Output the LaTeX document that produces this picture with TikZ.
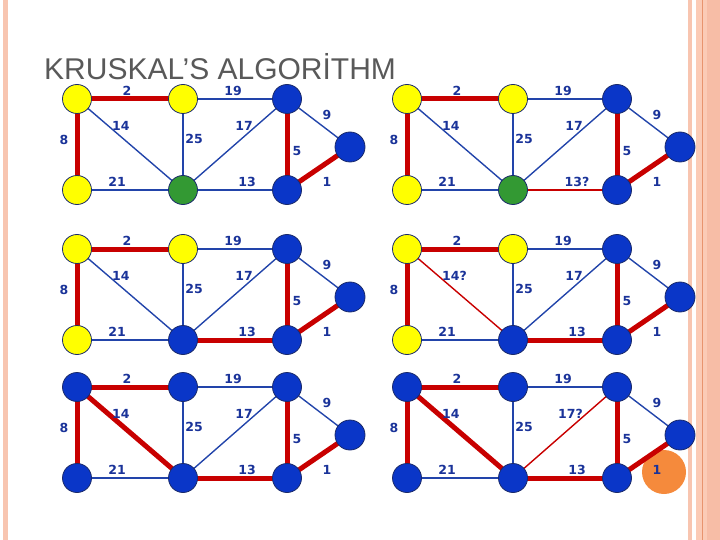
\documentclass[tikz,border=0pt]{standalone}
\usepackage{fontspec}
\setmainfont{DejaVu Sans}
\newfontfamily\titlefont{Liberation Sans}
\usetikzlibrary{backgrounds}
\definecolor{vblue}{HTML}{0A36C8}
\definecolor{vyellow}{HTML}{FFFF00}
\definecolor{vgreen}{HTML}{339933}
\definecolor{vline}{HTML}{1A2A6A}
\definecolor{eblue}{HTML}{2244AA}
\definecolor{ered}{HTML}{C80000}
\definecolor{labblue}{HTML}{1A3399}
\definecolor{titlegray}{HTML}{595959}
\definecolor{peachA}{HTML}{F8C5B0}
\definecolor{peachB}{HTML}{FBCBB6}
\definecolor{peachC}{HTML}{F7BDA6}
\definecolor{peachline}{HTML}{E8946E}
\definecolor{hilite}{HTML}{F58A3C}
\tikzset{
  vtx/.style={circle,minimum size=29pt,inner sep=0pt,draw=vline,line width=0.8pt},
  wlab/.style={text=labblue,font=\bfseries\fontsize{12.5}{13}\selectfont,inner sep=0pt},
  plainedge/.style={draw=eblue,line width=1.4pt},
  treeedge/.style={draw=ered,line width=5pt},
  candedge/.style={draw=ered,line width=1.4pt},
}
% #1 prefix, #2 dx, #3 dy, #4 colour A B D, #5 colour E, #6 colour C F G,
% #7 label 14, #8 label 17, #9 label 13
\newcommand\kpanel[9]{%
  \node[vtx,fill=#4] (#1A) at (77+#2,99+#3) {};
  \node[vtx,fill=#4] (#1B) at (183+#2,99+#3) {};
  \node[vtx,fill=#6] (#1C) at (287+#2,99+#3) {};
  \node[vtx,fill=#4] (#1D) at (77+#2,190+#3) {};
  \node[vtx,fill=#5] (#1E) at (183+#2,190+#3) {};
  \node[vtx,fill=#6] (#1F) at (287+#2,190+#3) {};
  \node[vtx,fill=#6,minimum size=30pt] (#1G) at (350+#2,147+#3) {};
  \node[wlab] (#1l2) at (127+#2,91+#3) {2};
  \node[wlab] (#1l19) at (233+#2,91+#3) {19};
  \node[wlab] (#1l8) at (64+#2,140+#3) {8};
  \node[wlab,anchor=west] (#1l14) at (112+#2,126+#3) {#7};
  \node[wlab] (#1l25) at (194+#2,139+#3) {25};
  \node[wlab,anchor=east] (#1l17) at (253+#2,126+#3) {#8};
  \node[wlab] (#1l9) at (327+#2,115+#3) {9};
  \node[wlab] (#1l5) at (297+#2,151+#3) {5};
  \node[wlab] (#1l21) at (117+#2,182+#3) {21};
  \node[wlab] (#1l13) at (247+#2,182+#3) {#9};
  \node[wlab] (#1l1) at (327+#2,182+#3) {1};
}
% edges: #1 prefix, #2 style for A-E (14), #3 style for C-E (17), #4 style for E-F (13)
\newcommand\kedges[4]{%
  \draw[treeedge] (#1A.center) -- (#1B.center);
  \draw[plainedge] (#1B.center) -- (#1C.center);
  \draw[treeedge] (#1A.center) -- (#1D.center);
  \draw[#2] (#1A.center) -- (#1E.center);
  \draw[plainedge] (#1B.center) -- (#1E.center);
  \draw[#3] (#1C.center) -- (#1E.center);
  \draw[plainedge] (#1C.center) -- (#1G.center);
  \draw[treeedge] (#1C.center) -- (#1F.center);
  \draw[plainedge] (#1D.center) -- (#1E.center);
  \draw[#4] (#1E.center) -- (#1F.center);
  \draw[treeedge] (#1F.center) -- (#1G.center);
}
\begin{document}
\begin{tikzpicture}[x=1pt,y=-1pt]
\useasboundingbox (0,0) rectangle (720,540);
% decorative border stripes
\fill[peachA] (3,0) rectangle (8,540);
\fill[peachA] (688,0) rectangle (692,540);
\fill[peachB] (696,0) rectangle (720,540);
\fill[peachC] (707,0) rectangle (720,540);
\draw[peachline,line width=1pt] (702.5,0) -- (702.5,540);
% title
\node[anchor=base west,inner sep=0pt,text=titlegray,font=\titlefont\fontsize{30}{30}\selectfont] (title) at (44,80) {KRUSKAL’S ALGORİTHM};
% panels
\kpanel{p}{0}{0}{vyellow}{vgreen}{vblue}{14}{17}{13}
\kpanel{q}{330}{0}{vyellow}{vgreen}{vblue}{14}{17}{13?}
\kpanel{r}{0}{150}{vyellow}{vblue}{vblue}{14}{17}{13}
\kpanel{s}{330}{150}{vyellow}{vblue}{vblue}{14?}{17}{13}
\kpanel{t}{0}{288}{vblue}{vblue}{vblue}{14}{17}{13}
\kpanel{u}{330}{288}{vblue}{vblue}{vblue}{14}{17?}{13}
\begin{scope}[on background layer]
  \fill[hilite] (ul1.center) ++(7,2) circle (22pt);
  \kedges{p}{plainedge}{plainedge}{plainedge}
  \kedges{q}{plainedge}{plainedge}{candedge}
  \kedges{r}{plainedge}{plainedge}{treeedge}
  \kedges{s}{candedge}{plainedge}{treeedge}
  \kedges{t}{treeedge}{plainedge}{treeedge}
  \kedges{u}{treeedge}{candedge}{treeedge}
\end{scope}
\end{tikzpicture}
\end{document}
